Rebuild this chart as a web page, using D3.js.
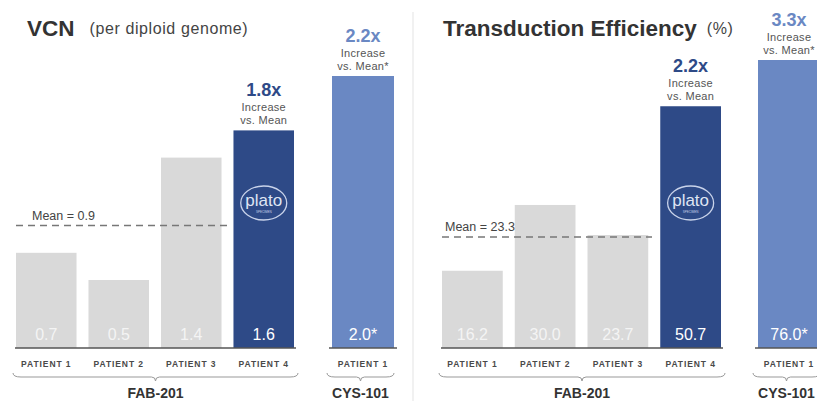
<!DOCTYPE html>
<html>
<head>
<meta charset="utf-8">
<script src="https://cdn.jsdelivr.net/npm/d3@7"></script>
<style>
  body{margin:0;background:#fff;}
  svg{display:block;font-family:"Liberation Sans",Arial,sans-serif;}
</style>
</head>
<body>
<svg id="chart" width="817" height="401"></svg>
<script>
// data
var fabPatients = ["PATIENT 1","PATIENT 2","PATIENT 3","PATIENT 4"];
var cysPatients = ["PATIENT 1"];
var groups = ["FAB-201","CYS-101"];

var vcnFab = [0.7,0.5,1.4,1.6];
var vcnCys = [2.0];
var vcnMean = 0.9;
var vcnFold = ["1.8x","2.2x"];

var teFab = [16.2,30.0,23.7,50.7];
var teCys = [76.0];
var teMean = 23.3;
var teFold = ["2.2x","3.3x"];

var GREY = "#d9d9d9", DARK = "#2e4a87", LIGHT = "#6a88c3";
var fmt = d3.format(".1f");
var svg = d3.select("#chart");

// divider between the two panels
svg.append("line").attr("x1",413).attr("x2",413).attr("y1",12).attr("y2",401)
  .attr("stroke","#e3e3e3").attr("stroke-width",1);

var panels = [
  {title:"VCN", sub:"(per diploid genome)", titleX:27, subGap:15,
   fab:vcnFab, cys:vcnCys, mean:vcnMean, fold:vcnFold, meanLabelX:32,
   fabRange:[16,294], cysRange:[332,394], yMax:2.0, yTop:76, meanEnd:228},
  {title:"Transduction Efficiency", sub:"(%)", titleX:443, subGap:10,
   fab:teFab, cys:teCys, mean:teMean, fold:teFold, meanLabelX:445,
   fabRange:[442,721], cysRange:[758,820], yMax:60.4, yTop:60, meanEnd:652}
];

var base = 348;

function brace(x0,x1,y){
  var m = (x0+x1)/2, r = 4;
  return "M"+x0+","+(y-4)+" Q"+x0+","+y+" "+(x0+r*2)+","+y+
    " L"+(m-r)+","+y+" Q"+m+","+y+" "+m+","+(y+4)+
    " Q"+m+","+y+" "+(m+r)+","+y+
    " L"+(x1-r*2)+","+y+" Q"+x1+","+y+" "+x1+","+(y-4);
}

panels.forEach(function(p){
  var g = svg.append("g");
  var y = d3.scaleLinear().domain([0,p.yMax]).range([base,p.yTop]).clamp(true);
  var xf = d3.scaleBand().domain(fabPatients).range(p.fabRange).paddingInner(0.165);
  var xc = d3.scaleBand().domain(cysPatients).range(p.cysRange);

  // title + unit, unit placed after the measured title
  var t = g.append("text").attr("x",p.titleX).attr("y",36)
    .attr("font-size",22.5).attr("font-weight","bold").attr("fill","#333").text(p.title);
  var tw = t.node().getComputedTextLength();
  g.append("text").attr("x",p.titleX+tw+p.subGap).attr("y",34).attr("font-size",16)
    .attr("letter-spacing",0.6).attr("fill","#444").text(p.sub);

  var bars = fabPatients.map(function(k,i){
    return {key:k, v:p.fab[i], x:xf(k), w:xf.bandwidth(),
      fill:i===3?DARK:GREY, label:fmt(p.fab[i]), lc:i===3?"#fff":"#f4f4f4"};
  }).concat(cysPatients.map(function(k,i){
    return {key:k, v:p.cys[i], x:xc(k), w:xc.bandwidth(), fill:LIGHT, label:fmt(p.cys[i])+"*", lc:"#fff", cys:true};
  }));

  g.selectAll(".bar").data(bars).enter().append("rect")
    .attr("class","bar")
    .attr("x",function(d){return d.x})
    .attr("width",function(d){return d.w})
    .attr("y",function(d){return y(d.v)})
    .attr("height",function(d){return base-y(d.v)})
    .attr("fill",function(d){return d.fill});

  g.selectAll(".val").data(bars).enter().append("text")
    .attr("class","val")
    .attr("x",function(d){return d.x+d.w/2})
    .attr("y",340).attr("text-anchor","middle").attr("font-size",16)
    .attr("fill",function(d){return d.lc})
    .text(function(d){return d.label});

  g.selectAll(".pat").data(bars).enter().append("text")
    .attr("class","pat")
    .attr("x",function(d){return d.x+d.w/2})
    .attr("y",367).attr("text-anchor","middle").attr("font-size",8.5)
    .attr("font-weight","bold").attr("letter-spacing",0.9).attr("fill","#4a4a4a")
    .text(function(d){return d.key});

  // baselines
  g.append("line").attr("x1",p.fabRange[0]-1).attr("x2",p.fabRange[1]+2).attr("y1",base).attr("y2",base)
    .attr("stroke","#555").attr("stroke-width",1.3);
  g.append("line").attr("x1",p.cysRange[0]-3).attr("x2",p.cysRange[1]+3).attr("y1",base).attr("y2",base)
    .attr("stroke","#555").attr("stroke-width",1.3);

  // mean line
  g.append("line").attr("x1",p.fabRange[0]).attr("x2",p.meanEnd)
    .attr("y1",y(p.mean)).attr("y2",y(p.mean))
    .attr("stroke","#777").attr("stroke-width",1.5).attr("stroke-dasharray","7,5");
  g.append("text").attr("x",p.meanLabelX).attr("y",y(p.mean)-6)
    .attr("font-size",12.5).attr("fill","#444").text("Mean = "+p.mean);

  // fold-change call-outs over patient 4 and CYS bar
  var hl = [bars[3], bars[4]];
  hl.forEach(function(d,i){
    var cx = d.x+d.w/2, top = y(d.v);
    var col = i===0?DARK:LIGHT;
    g.append("text").attr("x",cx).attr("y",top-34).attr("text-anchor","middle")
      .attr("font-size",18).attr("font-weight","bold").attr("fill",col).text(p.fold[i]);
    g.append("text").attr("x",cx).attr("y",top-19).attr("text-anchor","middle")
      .attr("font-size",11).attr("letter-spacing",0.3).attr("fill","#555").text("Increase");
    g.append("text").attr("x",cx).attr("y",top-6).attr("text-anchor","middle")
      .attr("font-size",11).attr("letter-spacing",0.3).attr("fill","#555").text(i===0?"vs. Mean":"vs. Mean*");
  });

  // plato logo on patient 4
  var lx = bars[3].x+bars[3].w/2, ly = 203;
  g.append("ellipse").attr("cx",lx).attr("cy",ly).attr("rx",23).attr("ry",17)
    .attr("fill","none").attr("stroke","#c9d3ea").attr("stroke-width",1.3);
  g.append("text").attr("x",lx).attr("y",ly+3).attr("text-anchor","middle")
    .attr("font-size",17).attr("fill","#dfe5f3").text("plato");
  g.append("text").attr("x",lx).attr("y",ly+10).attr("text-anchor","middle")
    .attr("font-size",3).attr("fill","#c9d3ea").text("SPECIMEN");

  // braces and group labels
  var spans = [[p.fabRange[0]-3,p.fabRange[1]+4],[p.cysRange[0]-5,p.cysRange[1]]];
  spans.forEach(function(s,i){
    g.append("path").attr("d",brace(s[0],s[1],377)).attr("fill","none")
      .attr("stroke","#999").attr("stroke-width",1);
    g.append("text").attr("x",(s[0]+s[1])/2).attr("y",398).attr("text-anchor","middle")
      .attr("font-size",14).attr("font-weight","bold").attr("fill","#333").text(groups[i]);
  });
});
</script>
</body>
</html>
